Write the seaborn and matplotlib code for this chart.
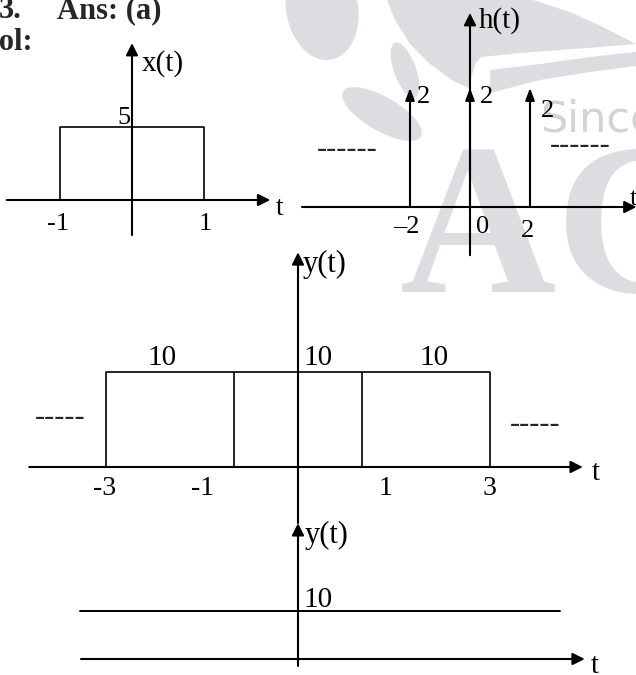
import matplotlib
matplotlib.use('Agg')
import pandas as pd
import matplotlib.pyplot as plt
from matplotlib.patches import Ellipse, Polygon
import seaborn as sns

# ------------------------------------------------------------
# DATA (signal values)
# ------------------------------------------------------------
# x(t): rectangular pulse of height 5 on [-1, 1]
x_t = [-1, -1, 1, 1]
x_amp = [0, 5, 5, 0]
x_tick_t = [-1, 1]
x_tick_labels = ['-1', '1']

# h(t): impulses of strength 2 at t = -2, 0, 2
h_t = [-2, 0, 2]
h_amp = [2, 2, 2]
h_tick_labels = ['\u20132', '0', '2']

# y(t) = x(t) * h(t): three pulses of height 10
y_edges = [-3, -1, 1, 3]
y_level = 10
y_tick_labels = ['-3', '-1', '1', '3']

# y(t) for the periodic case: constant 10
yc_span = [-3.4, 4.1]
yc_level = 10

W, H = 636, 675
WM = '#dcdde0'   # watermark grey

sns.set_style('white')
plt.rcParams['font.family'] = ['Liberation Serif', 'DejaVu Serif']

fig = plt.figure(figsize=(W / 100, H / 100), dpi=100)


def panel(ox, oy, sx, sy):
    # full-figure axes, origin at pixel (ox, oy), sx/sy pixels per unit
    ax = fig.add_axes([0, 0, 1, 1])
    ax.set_xlim(-ox / sx, (W - ox) / sx)
    ax.set_ylim((oy - H) / sy, oy / sy)
    ax.set_axis_off()
    ax.patch.set_alpha(0)
    return ax


def arrow(ax, start, end, lw=1.5, hw=0.2):
    ax.annotate('', xy=end, xytext=start, annotation_clip=False,
                arrowprops=dict(arrowstyle=f'-|>,head_length=0.4,head_width={hw}',
                                mutation_scale=18, lw=lw, color='black',
                                shrinkA=0, shrinkB=0))


def label(ax, s, xy, dx, dy, ha='center', size=20):
    ax.annotate(s, xy=xy, xytext=(dx, dy), textcoords='offset pixels',
                ha=ha, va='baseline', fontsize=size, color='black',
                annotation_clip=False)


def outline(ax, pieces, lw=1.2):
    rows = []
    for k, (ts, amps) in enumerate(pieces):
        for t, a in zip(ts, amps):
            rows.append({'seg': k, 't': t, 'amp': a})
    df = pd.DataFrame(rows)
    sns.lineplot(data=df, x='t', y='amp', units='seg', estimator=None,
                 sort=False, color='black', lw=lw, ax=ax, legend=False)


# ---------------- watermark logo (behind everything) ----------------
wm = fig.add_axes([0, 0, 1, 1], zorder=-1)
wm.set_xlim(0, W)
wm.set_ylim(H, 0)
wm.set_axis_off()
for c, w, h, ang in [((322, 8), 105, 72, 80), ((382, 114), 90, 34, 30),
                     ((405, 70), 58, 22, 70)]:
    wm.add_patch(Ellipse(c, w, h, angle=ang, color=WM, lw=0))
wm.add_patch(Polygon([(387, 0), (533, 0), (570, 12), (605, 28), (636, 44),
                      (600, 47), (560, 50), (520, 53), (482, 57), (476, 62),
                      (468, 88), (452, 80), (430, 64), (410, 44), (395, 20)],
                     closed=True, color=WM, lw=0))
wm.add_patch(Polygon([(490, 70), (540, 64), (590, 57), (636, 52), (636, 66),
                      (590, 72), (540, 80), (490, 93)],
                     closed=True, color=WM, lw=0))
wm.text(400, 292, 'AC', fontsize=156, fontweight='bold', color=WM,
        ha='left', va='baseline')
wm.text(540, 131, 'Since', fontsize=31, family='DejaVu Sans', color='#d2d3d6',
        ha='left', va='baseline')

# heading
fig.text(22 / W, 1 - 18 / H, '3.', fontsize=22, fontweight='bold', ha='right', va='baseline')
fig.text(57 / W, 1 - 18 / H, 'Ans: (a)', fontsize=22, fontweight='bold', ha='left', va='baseline')
fig.text(33 / W, 1 - 50 / H, 'Sol:', fontsize=22, fontweight='bold', ha='right', va='baseline')

# ---------------- x(t) ----------------
ax1 = panel(132, 200, 72, 14.6)
arrow(ax1, (-1.74, 0), (1.92, 0))
arrow(ax1, (0, -2.4), (0, 10.75))
outline(ax1, [(x_t, x_amp)])
label(ax1, 'x(t)', (0, 10.75), 10, -28, ha='left', size=21)
label(ax1, str(max(x_amp)), (0, max(x_amp)), -8, 3, size=19)
for t, s, dx in zip(x_tick_t, x_tick_labels, [-2, 1]):
    label(ax1, s, (t, 0), dx, -30, size=19)
label(ax1, 't', (1.92, 0), 6, -15, ha='left')

# ---------------- h(t) ----------------
ax2 = panel(470, 207, 30, 59.5)
arrow(ax2, (-5.6, 0), (5.55, 0))
arrow(ax2, (0, -0.81), (0, 3.26))
for t, a in zip(h_t, h_amp):
    arrow(ax2, (t, 0), (t, a), hw=0.15)
for t, a, dx, dy in zip(h_t, h_amp, [7, 10, 11], [-15, -15, -29]):
    label(ax2, str(a), (t, a), dx, dy, ha='left', size=19)
for t, s, dx, dy in zip(h_t, h_tick_labels, [-4, 13, -3], [-26, -26, -30]):
    label(ax2, s, (t, 0), dx, dy, size=19)
label(ax2, 'h(t)', (0, 3.26), 9, -15, ha='left', size=21)
label(ax2, 't', (5.55, 0), -7, 2, ha='left', size=19)
ax2.text(-4.1, 0.96, '------', ha='center', va='center', fontsize=22)
ax2.text(3.67, 1.04, '------', ha='center', va='center', fontsize=22)

# ---------------- y(t), finite case ----------------
ax3 = panel(298, 467, 64, 9.5)
arrow(ax3, (-4.2, 0), (4.45, 0))
arrow(ax3, (0, -5.9), (0, 22.6))
lo, hi = y_edges[0], y_edges[-1]
pieces = [([lo, lo, hi, hi], [0, y_level, y_level, 0])]
pieces += [([e, e], [0, y_level]) for e in y_edges[1:-1]]
outline(ax3, pieces)
label(ax3, str(y_level), (-2, y_level), -8, 7, size=21)
label(ax3, str(y_level), (0, y_level), 5, 7, ha='left', size=21)
label(ax3, str(y_level), (2, y_level), 8, 7, size=21)
for t, s, dx in zip(y_edges, y_tick_labels, [-1, -31, 24, -1]):
    label(ax3, s, (t, 0), dx, -28, size=20)
label(ax3, 'y(t)', (0, 22.6), 5, -20, ha='left', size=22)
label(ax3, 't', (4.45, 0), 9, -13, ha='left', size=21)
ax3.text(-3.72, 5.16, '-----', ha='center', va='center', fontsize=22)
ax3.text(3.7, 4.5, '-----', ha='center', va='center', fontsize=22)

# ---------------- y(t), constant case ----------------
ax4 = panel(298, 659, 64, 4.8)
arrow(ax4, (-3.39, 0), (4.48, 0))
arrow(ax4, (0, -1.46), (0, 28.3))
outline(ax4, [(yc_span, [yc_level, yc_level])], lw=1.4)
label(ax4, str(yc_level), (0, yc_level), 5, 4, ha='left', size=21)
label(ax4, 'y(t)', (0, 28.3), 7, -20, ha='left', size=22)
label(ax4, 't', (4.48, 0), 6, -14, ha='left', size=21)

fig.savefig('out.png', dpi=100)
